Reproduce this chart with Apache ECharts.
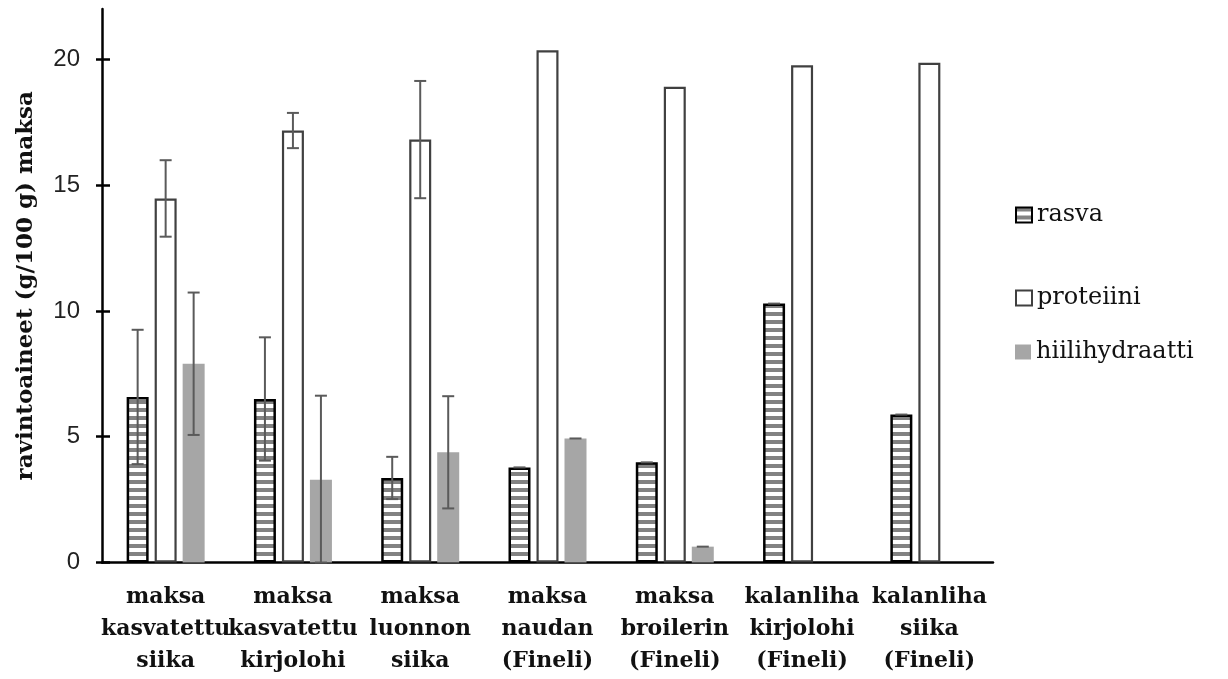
<!DOCTYPE html>
<html>
<head>
<meta charset="utf-8">
<script src="https://cdn.jsdelivr.net/npm/echarts@6/dist/echarts.min.js"></script>
<style>
  html, body { margin: 0; padding: 0; background: #fff; }
  #chart { width: 1228px; height: 679px; }
</style>
</head>
<body>
<div id="chart"></div>
<script>
// Ravintoaineet maksassa ja kalanlihassa (g/100 g)
const categories = [
  'maksa\nkasvatettu\nsiika',
  'maksa\nkasvatettu\nkirjolohi',
  'maksa\nluonnon\nsiika',
  'maksa\nnaudan\n(Fineli)',
  'maksa\nbroilerin\n(Fineli)',
  'kalanliha\nkirjolohi\n(Fineli)',
  'kalanliha\nsiika\n(Fineli)'
];
const seriesNames = ['rasva', 'proteiini', 'hiilihydraatti'];

const rasva = [6.58, 6.50, 3.36, 3.78, 3.98, 10.29, 5.88];
const proteiini = [14.47, 17.17, 16.81, 20.36, 18.91, 19.76, 19.86];
const hiilihydraatti = [7.90, 3.29, 4.38, 4.93, 0.63, 0, 0];

// keskihajonnat (null = ei virhepalkkia)
const rasvaSd = [2.67, 2.45, 0.84, 0, 0, 0, 0];
const proteiiniSd = [1.52, 0.70, 2.33, null, null, null, null];
const hiilihydraattiSd = [2.83, 3.34, 2.23, 0, 0, null, null];

const yTicks = [0, 5, 10, 15, 20];

const BAR_W = 22;
const BAR_GAP_PX = 6;
const SERIF = '"DejaVu Serif", serif';

// vaakaraidoitus rasvapylväille
function stripePattern() {
  const c = document.createElement('canvas');
  c.width = 8; c.height = 8;
  const g = c.getContext('2d');
  g.fillStyle = '#ffffff';
  g.fillRect(0, 0, 8, 8);
  g.fillStyle = '#828282';
  g.fillRect(0, 0, 8, 4);
  return c;
}

function errorData(means, sds) {
  const out = [];
  means.forEach((m, i) => {
    if (sds[i] !== null) out.push([i, m, sds[i]]);
  });
  return out;
}

function errorSeries(means, sds, slot) {
  return {
    type: 'custom',
    name: seriesNames[slot] + '-sd',
    z: 5,
    silent: true,
    data: errorData(means, sds),
    renderItem: function (params, api) {
      const idx = api.value(0);
      const m = api.value(1);
      const sd = api.value(2);
      const off = (slot - 1) * (BAR_W + BAR_GAP_PX);
      const top = api.coord([idx, m + sd]);
      const bot = api.coord([idx, Math.max(0, m - sd)]);
      const x = top[0] + off;
      const cap = 6;
      const style = { stroke: '#5a5a5a', lineWidth: 2, fill: null };
      const children = [
        { type: 'line', shape: { x1: x - cap, y1: top[1], x2: x + cap, y2: top[1] }, style: style }
      ];
      if (sd > 0) {
        children.push({ type: 'line', shape: { x1: x, y1: top[1], x2: x, y2: bot[1] }, style: style });
        children.push({ type: 'line', shape: { x1: x - cap, y1: bot[1], x2: x + cap, y2: bot[1] }, style: style });
      }
      return { type: 'group', children: children };
    }
  };
}

function legendAt(name, centerY) {
  return {
    data: [name],
    orient: 'vertical',
    left: 1015,
    top: centerY - 12,
    padding: 0,
    itemWidth: 16,
    itemHeight: 15,
    icon: 'rect',
    selectedMode: false,
    textStyle: { fontFamily: SERIF, fontSize: 24, color: '#111', lineHeight: 24 }
  };
}

const chart = echarts.init(document.getElementById('chart'), null, { renderer: 'canvas' });

chart.setOption({
  animation: false,
  backgroundColor: '#ffffff',
  grid: { left: 102, right: 235, top: 9, bottom: 116.5, containLabel: false, outerBoundsMode: 'none' },
  legend: [
    legendAt('rasva', 215),
    legendAt('proteiini', 298),
    legendAt('hiilihydraatti', 352)
  ],
  xAxis: {
    type: 'category',
    data: categories,
    axisLine: { show: true, lineStyle: { color: '#000', width: 2.5 } },
    axisTick: { show: false },
    axisLabel: {
      interval: 0,
      margin: 19,
      fontFamily: SERIF,
      fontWeight: 'bold',
      fontSize: 22,
      lineHeight: 32,
      color: '#111'
    }
  },
  yAxis: [
    {
      type: 'value',
      position: 'left',
      min: 0,
      max: 22,
      interval: 5,
      name: 'ravintoaineet (g/100 g) maksa',
      nameLocation: 'middle',
      nameRotate: 90,
      nameGap: 64,
      nameTextStyle: { fontFamily: SERIF, fontWeight: 'bold', fontSize: 23, color: '#111' },
      splitLine: { show: false },
      axisLine: { show: true, lineStyle: { color: '#000', width: 2.5 } },
      axisTick: { show: true, inside: true, length: 8, lineStyle: { color: '#000', width: 2.5 }, customValues: yTicks },
      axisLabel: {
        margin: 22,
        fontFamily: '"Liberation Sans", Arial, sans-serif',
        fontSize: 24,
        color: '#222',
        customValues: yTicks
      }
    },
    {
      type: 'value',
      position: 'left',
      offset: 0,
      min: 0,
      max: 22,
      interval: 5,
      splitLine: { show: false },
      axisLine: { show: false },
      axisLabel: { show: false },
      axisTick: { show: true, inside: false, length: 6, lineStyle: { color: '#000', width: 2.5 }, customValues: yTicks }
    }
  ],
  series: [
    {
      name: 'rasva',
      type: 'bar',
      data: rasva,
      barWidth: BAR_W,
      barGap: (BAR_GAP_PX / BAR_W * 100) + '%',
      itemStyle: {
        color: { image: stripePattern(), repeat: 'repeat' },
        borderColor: '#000',
        borderWidth: 2.5
      }
    },
    {
      name: 'proteiini',
      type: 'bar',
      data: proteiini,
      barWidth: BAR_W,
      barGap: (BAR_GAP_PX / BAR_W * 100) + '%',
      itemStyle: { color: '#ffffff', borderColor: '#404040', borderWidth: 2.2 }
    },
    {
      name: 'hiilihydraatti',
      type: 'bar',
      data: hiilihydraatti,
      barWidth: BAR_W,
      barGap: (BAR_GAP_PX / BAR_W * 100) + '%',
      itemStyle: { color: '#a6a6a6', borderWidth: 0 }
    },
    errorSeries(rasva, rasvaSd, 0),
    errorSeries(proteiini, proteiiniSd, 1),
    errorSeries(hiilihydraatti, hiilihydraattiSd, 2)
  ]
});
</script>
</body>
</html>
